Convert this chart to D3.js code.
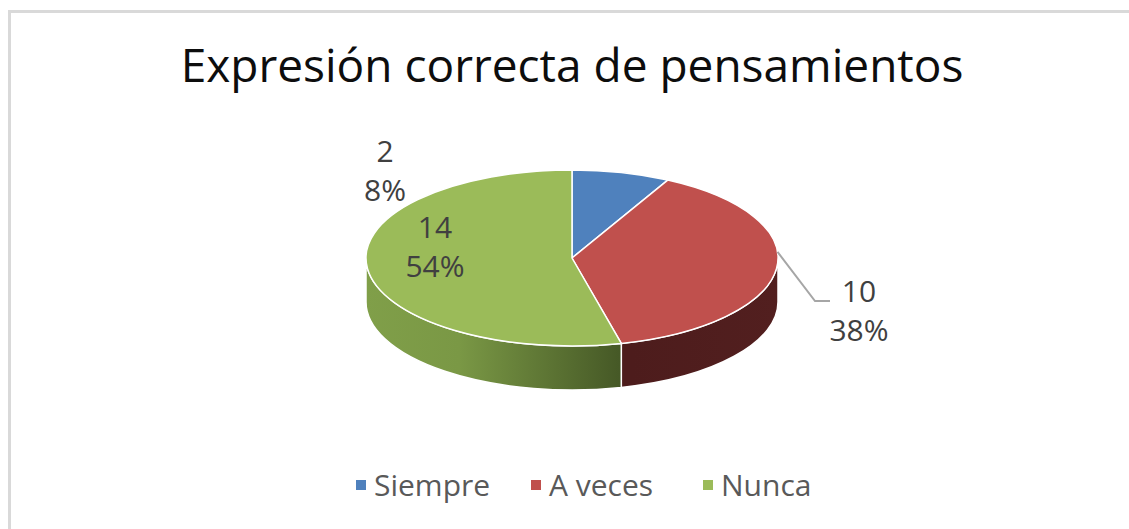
<!DOCTYPE html>
<html>
<head>
<meta charset="utf-8">
<script src="https://cdn.jsdelivr.net/npm/d3@7"></script>
<style>
  body { margin:0; background:#fff; }
  svg { display:block; font-family:"Open Sans", "Noto Sans", sans-serif; }
</style>
</head>
<body>
<div id="chart"></div>
<script>
const title = "Expresión correcta de pensamientos";
const categories = ["Siempre", "A veces", "Nunca"];
const values = [2, 10, 14];
const percents = ["8%", "38%", "54%"];
const colors = ["#4f81bd", "#c0504d", "#9bbb59"];

const W = 1129, H = 529;
const cx = 572, cy = 258, rx = 206, ry = 88, depth = 44;

const svg = d3.select("#chart").append("svg")
  .attr("width", W)
  .attr("height", H);

// chart border
svg.append("rect")
  .attr("x", 9.5).attr("y", 11.5)
  .attr("width", W).attr("height", H)
  .attr("fill", "#fff")
  .attr("stroke", "#d9d9d9")
  .attr("stroke-width", 3);

svg.append("text")
  .attr("x", cx).attr("y", 82)
  .attr("text-anchor", "middle")
  .attr("font-size", 46)
  .attr("fill", "#0d0d0d")
  .text(title);

const defs = svg.append("defs");
const gGreen = defs.append("linearGradient").attr("id", "sideGreen")
  .attr("gradientUnits", "userSpaceOnUse")
  .attr("x1", cx - rx).attr("x2", 631).attr("y1", 0).attr("y2", 0);
gGreen.append("stop").attr("offset", 0).attr("stop-color", "#809f49");
gGreen.append("stop").attr("offset", 0.35).attr("stop-color", "#7a9845");
gGreen.append("stop").attr("offset", 1).attr("stop-color", "#425424");
const gRed = defs.append("linearGradient").attr("id", "sideRed")
  .attr("gradientUnits", "userSpaceOnUse")
  .attr("x1", 631).attr("x2", cx + rx).attr("y1", 0).attr("y2", 0);
gRed.append("stop").attr("offset", 0).attr("stop-color", "#4d1c1c");
gRed.append("stop").attr("offset", 1).attr("stop-color", "#521f1f");
const sideFill = ["#2d4a74", "url(#sideRed)", "url(#sideGreen)"];

const pie = d3.pie().sort(null).value(d => d)(values);

// angle measured clockwise from 12 o'clock
const pt = (a, dy = 0) => [cx + rx * Math.sin(a), cy - ry * Math.cos(a) + dy];

function topPath(a0, a1) {
  const p0 = pt(a0), p1 = pt(a1);
  const large = a1 - a0 > Math.PI ? 1 : 0;
  return `M${cx},${cy}L${p0}A${rx},${ry} 0 ${large} 1 ${p1}Z`;
}

function sidePath(a0, a1) {
  const s0 = Math.max(a0, Math.PI / 2), s1 = Math.min(a1, 3 * Math.PI / 2);
  if (s1 <= s0) return null;
  const large = s1 - s0 > Math.PI ? 1 : 0;
  return `M${pt(s0)}A${rx},${ry} 0 ${large} 1 ${pt(s1)}` +
    `L${pt(s1, depth)}A${rx},${ry} 0 ${large} 0 ${pt(s0, depth)}Z`;
}

const sides = svg.append("g");
pie.forEach((d, i) => {
  const p = sidePath(d.startAngle, d.endAngle);
  if (p) sides.append("path").attr("d", p)
    .attr("fill", sideFill[i])
    .attr("stroke", "#fff").attr("stroke-width", 1.5)
    .attr("stroke-linejoin", "round");
});

svg.append("g").selectAll("path").data(pie).join("path")
  .attr("d", d => topPath(d.startAngle, d.endAngle))
  .attr("fill", (d, i) => colors[i])
  .attr("stroke", "#fff").attr("stroke-width", 1.5)
  .attr("stroke-linejoin", "round");

// data labels
const labelPos = [[385, 162], [859, 302], [435, 238]];
const labels = svg.append("g").attr("font-size", 30).attr("fill", "#404040")
  .attr("text-anchor", "middle");
pie.forEach((d, i) => {
  const t = labels.append("text").attr("x", labelPos[i][0]).attr("y", labelPos[i][1]);
  t.append("tspan").attr("x", labelPos[i][0]).text(values[i]);
  t.append("tspan").attr("x", labelPos[i][0]).attr("dy", 39).text(percents[i]);
});

// leader line for A veces
svg.append("path")
  .attr("d", `M${pt(Math.PI / 2 - 0.07)}L815,301L830,301`)
  .attr("fill", "none")
  .attr("stroke", "#a6a6a6")
  .attr("stroke-width", 2);

// legend
const legendX = [356, 531, 703];
const legend = svg.append("g").attr("font-size", 30).attr("fill", "#595959");
categories.forEach((c, i) => {
  legend.append("rect")
    .attr("x", legendX[i]).attr("y", 480)
    .attr("width", 10).attr("height", 10)
    .attr("fill", colors[i]);
  legend.append("text")
    .attr("x", legendX[i] + 18).attr("y", 496)
    .text(c);
});
</script>
</body>
</html>
